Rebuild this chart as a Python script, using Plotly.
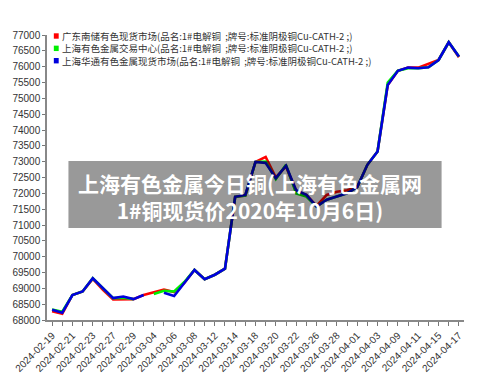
import plotly.graph_objects as go

dates = ["2024-02-19","2024-02-20","2024-02-21","2024-02-22","2024-02-23","2024-02-26","2024-02-27",
         "2024-02-28","2024-02-29","2024-03-01","2024-03-04","2024-03-05","2024-03-06","2024-03-07",
         "2024-03-08","2024-03-11","2024-03-12","2024-03-13","2024-03-14","2024-03-15","2024-03-18",
         "2024-03-19","2024-03-20","2024-03-21","2024-03-22","2024-03-25","2024-03-26","2024-03-27",
         "2024-03-28","2024-03-29","2024-04-01","2024-04-02","2024-04-03","2024-04-08","2024-04-09",
         "2024-04-10","2024-04-11","2024-04-12","2024-04-15","2024-04-16","2024-04-17"]

red_vals = [68280, 68200, 68790, 68900, 69300, 68950, 68650, 68660, 68660, 68790,
            68880, 68960, 68880, 69170, 69580, 69290, 69430, 69620, 71890, 71930,
            72990, 73150, 72500, 72850, 72050, 71950, 71600, 71950, 72050, 72100,
            72200, 72900, 73320, 75420, 75870, 75970, 75970, 76100, 76210, 76770, 76300]
green_vals = [68330, 68260, 68790, 68900, 69320, 69000, 68690, 68700, 68660, None,
              68820, 68920, 68900, 69200, 69580, 69290, 69430, 69620, 71890, 71930,
              72990, 73000, 72450, 72900, 72000, 71900, 71580, 71800, 71900, 72000,
              72200, 72900, 73320, 75500, 75870, 75950, 75950, 75980, 76210, 76770, 76320]
blue_vals = [68320, 68230, 68790, 68900, 69320, 69000, 68690, 68740, 68660, 68790,
             None, 68860, 68760, 69170, 69580, 69290, 69430, 69620, 71890, 71950,
             72990, 72960, 72480, 72870, 72100, 71950, 71580, 71800, 71900, 72000,
             72200, 72900, 73320, 75420, 75870, 75970, 75950, 75980, 76210, 76770, 76320]

series_names = ["广东南储有色现货市场(品名:1#电解铜  ;牌号:标准阴极铜Cu-CATH-2 ;)",
                "上海有色金属交易中心(品名:1#电解铜  ;牌号:标准阴极铜Cu-CATH-2 ;)",
                "上海华通有色金属现货市场(品名:1#电解铜  ;牌号:标准阴极铜Cu-CATH-2 ;)"]
series_colors = ["#ff0000", "#00f000", "#0000dd"]
y_ticks = list(range(68000, 77001, 500))
overlay_lines = ["上海有色金属今日铜(上海有色金属网", "1#铜现货价2020年10月6日)"]

fig = go.Figure()
for vals, name, col in zip([red_vals, green_vals, blue_vals], series_names, series_colors):
    fig.add_trace(go.Scatter(x=dates, y=vals, mode="lines", name=name,
                             line=dict(color=col, width=2.6), connectgaps=False,
                             showlegend=False))

ticktext = [d if i % 2 == 0 else "" for i, d in enumerate(dates)]

fig.update_layout(
    width=500, height=392,
    margin=dict(l=36, r=36, t=35, b=72),
    paper_bgcolor="white", plot_bgcolor="white",
    font=dict(family="Liberation Sans, Arial", size=10, color="#333"),
    xaxis=dict(type="category", range=[-0.5, 40.5], tickvals=dates, ticktext=ticktext,
               tickangle=-45, ticks="outside", ticklen=4, tickcolor="#777",
               showline=True, linecolor="#888", linewidth=1.5, showgrid=False,
               zeroline=False, tickfont=dict(size=10, color="#333")),
    yaxis=dict(range=[68000, 77000], tickvals=y_ticks, ticktext=[str(v) for v in y_ticks],
               ticks="outside", ticklen=3, tickcolor="#777",
               showline=True, linecolor="#888", linewidth=1.5, showgrid=False,
               zeroline=False, tickfont=dict(size=10, color="#333")),
    showlegend=False,
)

# legend drawn manually: one text block, one colour square per row
row_h = 9.5 * 1.3
top_row = 36.0
for k, col in enumerate(series_colors):
    yc = top_row + k * row_h
    fig.add_shape(type="rect", xref="paper", yref="paper",
                  x0=(43 - 36) / 428, x1=(48 - 36) / 428,
                  y0=(320 - (yc + 2.7)) / 285, y1=(320 - (yc - 2.7)) / 285,
                  fillcolor=col, line=dict(width=0))
fig.add_annotation(xref="paper", yref="paper", x=(50 - 36) / 428,
                   y=(320 - (top_row + row_h)) / 285,
                   text="<br>".join(series_names), showarrow=False,
                   xanchor="left", yanchor="middle", align="left", borderpad=0,
                   font=dict(family="Noto Sans CJK SC", size=9.5, color="#333"))

# gray overlay banner
fig.add_shape(type="rect", xref="paper", yref="paper", layer="above",
              x0=(58 - 36) / 428, x1=(441 - 36) / 428,
              y0=(320 - 228) / 285, y1=(320 - 161) / 285,
              fillcolor="rgba(0,0,0,0.4)", line=dict(width=0))
fig.add_annotation(xref="paper", yref="paper", x=(244 - 36) / 428, y=(320 - 196.5) / 285,
                   text="<b>" + "<br>".join(overlay_lines) + "</b>", showarrow=False,
                   xanchor="center", yanchor="middle", align="center",
                   font=dict(family="Noto Sans CJK SC", size=21, color="white"))

fig.write_html("out.html")
